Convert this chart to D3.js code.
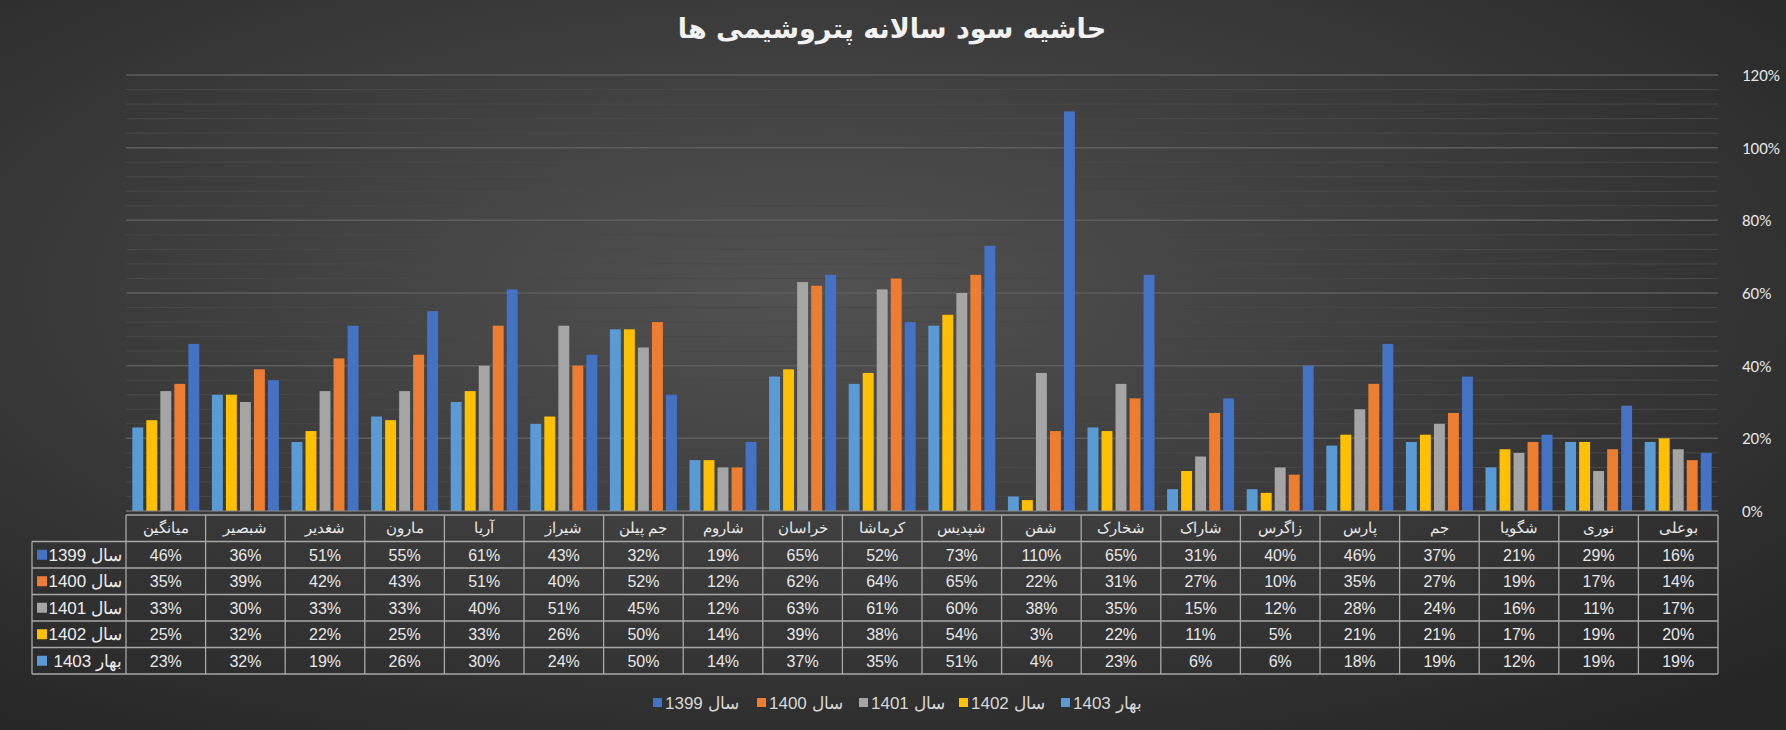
<!DOCTYPE html><html><head><meta charset="utf-8"><script src="https://cdn.jsdelivr.net/npm/d3@7"></script>
<style>body{margin:0;background:#333}svg{display:block}</style></head><body><svg id="c" width="1786" height="730"></svg><script>
const categories=["میانگین","شبصیر","شغدیر","مارون","آریا","شیراز","جم پیلن","شاروم","خراسان","کرماشا","شپدیس","شفن","شخارک","شاراک","زاگرس","پارس","جم","شگویا","نوری","بوعلی"];
const seriesNames=["سال 1399","سال 1400","سال 1401","سال 1402","بهار 1403"];
const s1399=[46,36,51,55,61,43,32,19,65,52,73,110,65,31,40,46,37,21,29,16];
const s1400=[35,39,42,43,51,40,52,12,62,64,65,22,31,27,10,35,27,19,17,14];
const s1401=[33,30,33,33,40,51,45,12,63,61,60,38,35,15,12,28,24,16,11,17];
const s1402=[25,32,22,25,33,26,50,14,39,38,54,3,22,11,5,21,21,17,19,20];
const s1403=[23,32,19,26,30,24,50,14,37,35,51,4,23,6,6,18,19,12,19,19];
const yTicks=[0,20,40,60,80,100,120];
const colors=["#4472c4","#ed7d31","#a5a5a5","#ffc000","#5b9bd5"];
const series=[s1399,s1400,s1401,s1402,s1403];
const svg=d3.select("#c");
const defs=svg.append("defs");
const g0=defs.append("radialGradient").attr("id","bg").attr("cx","45%").attr("cy","40%").attr("r","75%");
g0.append("stop").attr("offset","0%").attr("stop-color","#525252");
g0.append("stop").attr("offset","100%").attr("stop-color","#262626");
svg.append("rect").attr("width",1786).attr("height",730).attr("fill","url(#bg)");
const L=126,R=1718,T=75,B=511;
const x=d3.scaleBand().domain(categories).range([L,R]);
const y=d3.scaleLinear().domain([0,120]).range([B,T]);
svg.append("g").selectAll("line").data(d3.range(4,121,4)).join("line")
 .attr("x1",L).attr("x2",R).attr("y1",d=>y(d)).attr("y2",d=>y(d))
 .attr("stroke",d=>d%20===0?"#5e5e5e":"#494949").attr("stroke-width",d=>d%20===0?1.5:1);
const yAx=svg.append("g").attr("transform",`translate(${R},0)`).call(d3.axisRight(y).tickValues(yTicks).tickFormat(d=>d+"%").tickSize(0).tickPadding(24));
yAx.select(".domain").remove();
yAx.selectAll("text").attr("fill","#e6e6e6").attr("font-size",17).attr("font-family","Carlito, Calibri, 'Liberation Sans', sans-serif");
const order=[4,3,2,1,0];
const xi=d3.scaleBand().domain(order).range([0,x.bandwidth()]).paddingInner(0.22).paddingOuter(0.45);
const bars=svg.append("g");
categories.forEach((c,ci)=>{order.forEach(si=>{
 bars.append("rect").attr("x",x(c)+xi(si)).attr("width",xi.bandwidth()).attr("y",y(series[si][ci])).attr("height",B-y(series[si][ci])).attr("fill",colors[si]);
});});
svg.append("line").attr("x1",L).attr("x2",R).attr("y1",B).attr("y2",B).attr("stroke","#8a8a8a");
const rowH=26.5, tTop=515, LL=32;
const tb=svg.append("g").attr("font-family","'Liberation Sans', Arial, sans-serif").attr("fill","#e8e8e8");
const lc="#a8a8a8";
for(let r=0;r<=6;r++){tb.append("line").attr("x1",r===0?L:LL).attr("x2",R).attr("y1",tTop+r*rowH).attr("y2",tTop+r*rowH).attr("stroke",lc).attr("stroke-width",1.3);}
categories.forEach((c,i)=>{tb.append("line").attr("x1",x(c)).attr("x2",x(c)).attr("y1",tTop).attr("y2",tTop+6*rowH).attr("stroke",lc).attr("stroke-width",1.3);});
tb.append("line").attr("x1",R).attr("x2",R).attr("y1",tTop).attr("y2",tTop+6*rowH).attr("stroke",lc).attr("stroke-width",1.3);
tb.append("line").attr("x1",LL).attr("x2",LL).attr("y1",tTop+rowH).attr("y2",tTop+6*rowH).attr("stroke",lc).attr("stroke-width",1.3);
categories.forEach((c,i)=>{
 tb.append("text").attr("x",x(c)+x.bandwidth()/2).attr("y",tTop+rowH/2+5).attr("text-anchor","middle").attr("font-size",15).attr("fill","#e8e8e8").text(c);
 series.forEach((s,si)=>{tb.append("text").attr("x",x(c)+x.bandwidth()/2).attr("y",tTop+(si+1)*rowH+rowH/2+6).attr("text-anchor","middle").attr("font-size",16).attr("fill","#e8e8e8").text(s[i]+"%");});
});
seriesNames.forEach((n,si)=>{
 const yy=tTop+(si+1)*rowH;
 tb.append("rect").attr("x",LL+5).attr("y",yy+rowH/2-5).attr("width",10).attr("height",10).attr("fill",colors[si]);
 tb.append("text").attr("x",L-4).attr("y",yy+rowH/2+6).attr("text-anchor","start").attr("font-size",17).attr("fill","#ececec").attr("direction","rtl").text(n);
});
const lg=svg.append("g").attr("font-family","'Liberation Sans', Arial, sans-serif");
const lx=[653,757,859,959,1061];
seriesNames.forEach((n,si)=>{
 lg.append("rect").attr("x",lx[si]).attr("y",698).attr("width",9).attr("height",9).attr("fill",colors[si]);
 lg.append("text").attr("x",lx[si]+12).attr("y",709).attr("text-anchor","end").attr("direction","rtl").attr("font-size",17).attr("fill","#d8d8d8").text(n);
});
svg.append("text").attr("x",892).attr("y",38).attr("text-anchor","middle").attr("font-size",27).attr("font-weight","bold").attr("fill","#f2f2f2").attr("font-family","'DejaVu Sans', 'Noto Sans', sans-serif").text("حاشیه سود سالانه پتروشیمی ها");
</script></body></html>
